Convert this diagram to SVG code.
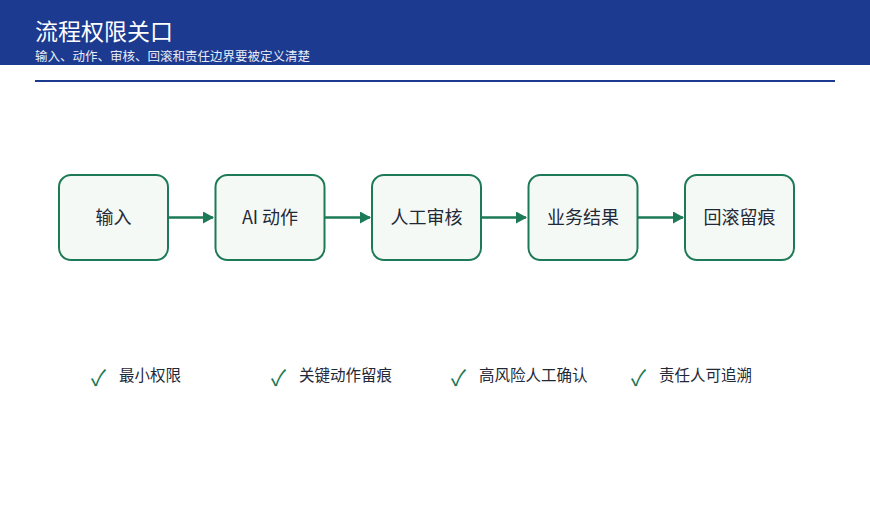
<svg xmlns="http://www.w3.org/2000/svg" width="870" height="522" viewBox="0 0 870 522">
<style>
.t{font-family:"Noto Sans CJK SC","Noto Sans",sans-serif}
.box{fill:#f5f9f6;stroke:#1d7a56;stroke-width:2}
.lbl{font-size:18px;fill:#1f2937;text-anchor:middle}
.bul{font-size:15.5px;fill:#1f2937}
.ck{font-size:22px;fill:#1d7a56}
.ar{stroke:#1d7a56;stroke-width:2.5;fill:none;marker-end:url(#m)}
</style>
<defs><marker id="m" markerWidth="12" markerHeight="12" refX="10" refY="6" orient="auto" markerUnits="userSpaceOnUse"><path d="M0,0 L11,6 L0,12 Z" fill="#1d7a56"/></marker></defs>
<rect width="870" height="522" fill="#fff"/>
<rect width="870" height="65" fill="#1c3a8f"/>
<text class="t" x="35" y="40" font-size="23" fill="#fff">流程权限关口</text>
<text class="t" x="35" y="60.5" font-size="12.5" fill="#e8ecf6">输入、动作、审核、回滚和责任边界要被定义清楚</text>
<line x1="35" y1="81" x2="835" y2="81" stroke="#1c3a8f" stroke-width="2"/>
<g id="connectors">
<line class="ar" x1="168" y1="217.5" x2="213" y2="217.5"/>
<line class="ar" x1="325" y1="217.5" x2="370" y2="217.5"/>
<line class="ar" x1="481" y1="217.5" x2="526" y2="217.5"/>
<line class="ar" x1="638" y1="217.5" x2="683" y2="217.5"/>
</g>
<g id="n1"><rect class="box" x="59" y="175" width="109" height="85" rx="12"/><text class="t lbl" x="113.5" y="224">输入</text></g>
<g id="n2"><rect class="box" x="215.5" y="175" width="109" height="85" rx="12"/><text class="t lbl" x="270" y="224">AI 动作</text></g>
<g id="n3"><rect class="box" x="372" y="175" width="109" height="85" rx="12"/><text class="t lbl" x="426.5" y="224">人工审核</text></g>
<g id="n4"><rect class="box" x="528.5" y="175" width="109" height="85" rx="12"/><text class="t lbl" x="583" y="224">业务结果</text></g>
<g id="n5"><rect class="box" x="685" y="175" width="109" height="85" rx="12"/><text class="t lbl" x="739.5" y="224">回滚留痕</text></g>
<g id="bullets">
<text class="t ck" x="91" y="386">✓</text><text class="t bul" x="119" y="381">最小权限</text>
<text class="t ck" x="271" y="386">✓</text><text class="t bul" x="299" y="381">关键动作留痕</text>
<text class="t ck" x="451" y="386">✓</text><text class="t bul" x="479" y="381">高风险人工确认</text>
<text class="t ck" x="631" y="386">✓</text><text class="t bul" x="659" y="381">责任人可追溯</text>
</g>
</svg>
